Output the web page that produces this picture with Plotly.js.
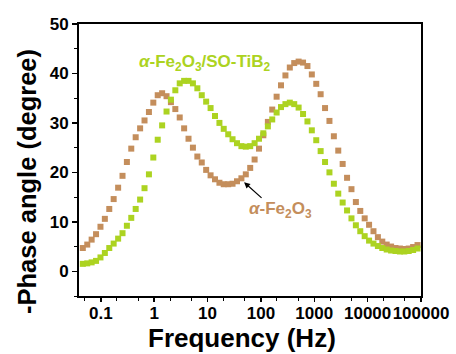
<!DOCTYPE html>
<html>
<head>
<meta charset="utf-8">
<script src="https://cdn.plot.ly/plotly-3.0.1.min.js"></script>
<style>html,body{margin:0;padding:0;background:#fff;}#chart{width:456px;height:354px;}</style>
</head>
<body>
<div id="chart"></div>
<script>
// Frequency (Hz)
var frequency = [0.0460,0.0557,0.0673,0.0814,0.0985,0.119,0.144,0.174,0.211,0.255,0.308,0.372,0.450,0.545,0.659,0.797,0.963,1.165,1.409,1.704,2.06,2.49,3.01,3.64,4.40,5.32,6.44,7.79,9.42,11.4,13.8,16.7,20.1,24.4,29.4,35.6,43.1,52.1,63.0,76.2,92.1,111,135,163,197,238,288,348,421,509,616,745,900,1089,1316,1592,1925,2328,2815,3404,4116,4977,6019,7278,8801,10643,12870,15563,18820,22758,27521,33280,40244,48666,58849,71163,86055];
// -Phase angle (degree), alpha-Fe2O3
var phaseFe2O3 = [4.7,5.4,6.4,7.5,9.0,10.6,12.6,14.6,16.9,19.3,22.1,24.8,27.1,28.9,30.5,32.2,34.1,35.6,36.0,35.4,34.2,32.8,31.1,28.9,26.8,25.0,23.2,22.0,20.5,19.4,18.6,17.9,17.6,17.6,17.7,18.2,18.8,19.6,20.9,22.6,24.8,27.5,30.2,32.7,35.3,37.6,39.6,41.2,42.1,42.4,42.2,41.5,39.8,37.9,35.8,33.0,30.4,27.3,24.4,21.7,18.9,16.6,14.0,12.2,10.7,9.4,8.1,6.9,6.0,5.4,5.0,4.7,4.6,4.5,4.6,4.9,5.3];
// -Phase angle (degree), alpha-Fe2O3/SO-TiB2
var phaseComposite = [1.5,1.6,1.8,2.1,2.8,3.7,4.7,5.6,6.6,7.7,9.2,10.8,12.6,14.5,16.8,19.6,23.0,26.6,29.5,32.3,34.7,36.6,38.0,38.5,38.5,38.0,37.0,35.6,34.3,33.0,31.4,30.0,28.8,27.7,26.7,25.9,25.3,25.2,25.3,25.9,26.8,27.9,29.3,30.7,32.1,33.2,33.8,34.1,33.8,33.1,31.8,30.3,28.5,26.5,24.3,22.1,20.0,17.7,15.7,13.9,12.3,10.7,9.3,8.1,7.1,6.2,5.6,5.1,4.7,4.4,4.2,4.1,4.0,4.0,4.1,4.3,4.6];
var xTickVals = [0.1,1,10,100,1000,10000,100000];
var xTickText = ['0.1','1','10','100','1000','10000','100000'];
var seriesNames = ['α-Fe2O3','α-Fe2O3/SO-TiB2'];

var brown = '#c48e5c';
var green = '#acd321';
var fontFam = '"Liberation Sans", Arial, sans-serif';

var traces = [
  {x: frequency, y: phaseFe2O3, name: seriesNames[0], type: 'scatter', mode: 'markers',
   marker: {symbol: 'square', size: 6, color: brown}},
  {x: frequency, y: phaseComposite, name: seriesNames[1], type: 'scatter', mode: 'markers',
   marker: {symbol: 'square', size: 6, color: green}}
];

var layout = {
  width: 456, height: 354,
  margin: {l: 79, r: 35, t: 24, b: 58},
  paper_bgcolor: '#fff', plot_bgcolor: '#fff',
  showlegend: false,
  font: {family: fontFam, color: '#000'},
  xaxis: {
    type: 'log', range: [Math.log10(0.039), 5],
    tickvals: xTickVals, ticktext: xTickText, tickangle: 0,
    ticks: 'outside', ticklen: 4, tickwidth: 1.5, tickcolor: '#000',
    ticklabelstandoff: -3,
    minor: {ticks: 'outside', ticklen: 3, tickwidth: 1, tickcolor: '#000', showgrid: false},
    showline: true, linewidth: 2, linecolor: '#000', mirror: true,
    showgrid: false, zeroline: false,
    tickfont: {size: 17, family: fontFam, weight: 'bold'}
  },
  yaxis: {
    range: [-5, 50], dtick: 10, tick0: 0,
    ticks: 'outside', ticklen: 5, tickwidth: 1.5, tickcolor: '#000',
    minor: {ticks: 'outside', ticklen: 3, dtick: 5, tickwidth: 1, tickcolor: '#000', showgrid: false},
    showline: true, linewidth: 2, linecolor: '#000', mirror: true,
    showgrid: false, zeroline: false,
    tickfont: {size: 17, family: fontFam, weight: 'bold'}
  },
  annotations: [
    {xref: 'paper', yref: 'paper', x: (242 - 79) / 342, y: (296 - 338) / 272,
     text: '<b>Frequency (Hz)</b>', showarrow: false,
     font: {size: 26, color: '#000', family: fontFam}, xanchor: 'center', yanchor: 'middle'},
    {xref: 'paper', yref: 'paper', x: (27 - 79) / 342, y: (296 - 182) / 272,
     text: '<b>-Phase angle (degree)</b>', textangle: -90, showarrow: false,
     font: {size: 25.5, color: '#000', family: fontFam}, xanchor: 'center', yanchor: 'middle'},
    {xref: 'paper', yref: 'paper', x: (205 - 79) / 342, y: (296 - 63) / 272,
     text: '<b><i>α</i>-Fe<sub>2</sub>O<sub>3</sub>/SO-TiB<sub>2</sub></b>', showarrow: false,
     font: {size: 17, color: green, family: fontFam}, xanchor: 'center', yanchor: 'middle'},
    {xref: 'paper', yref: 'paper', x: (280 - 79) / 342, y: (296 - 210) / 272,
     text: '<b><i>α</i>-Fe<sub>2</sub>O<sub>3</sub></b>', showarrow: false,
     font: {size: 17, color: brown, family: fontFam}, xanchor: 'center', yanchor: 'middle'},
    {x: Math.log10(frequency[36]) + 0.05, y: phaseFe2O3[36] - 0.8, xref: 'x', yref: 'y',
     text: '', showarrow: true, arrowhead: 2, arrowsize: 1, arrowwidth: 1.2, arrowcolor: '#000',
     ax: 19, ay: 17}
  ]
};

Plotly.newPlot('chart', traces, layout, {displayModeBar: false, staticPlot: true});
</script>
</body>
</html>
